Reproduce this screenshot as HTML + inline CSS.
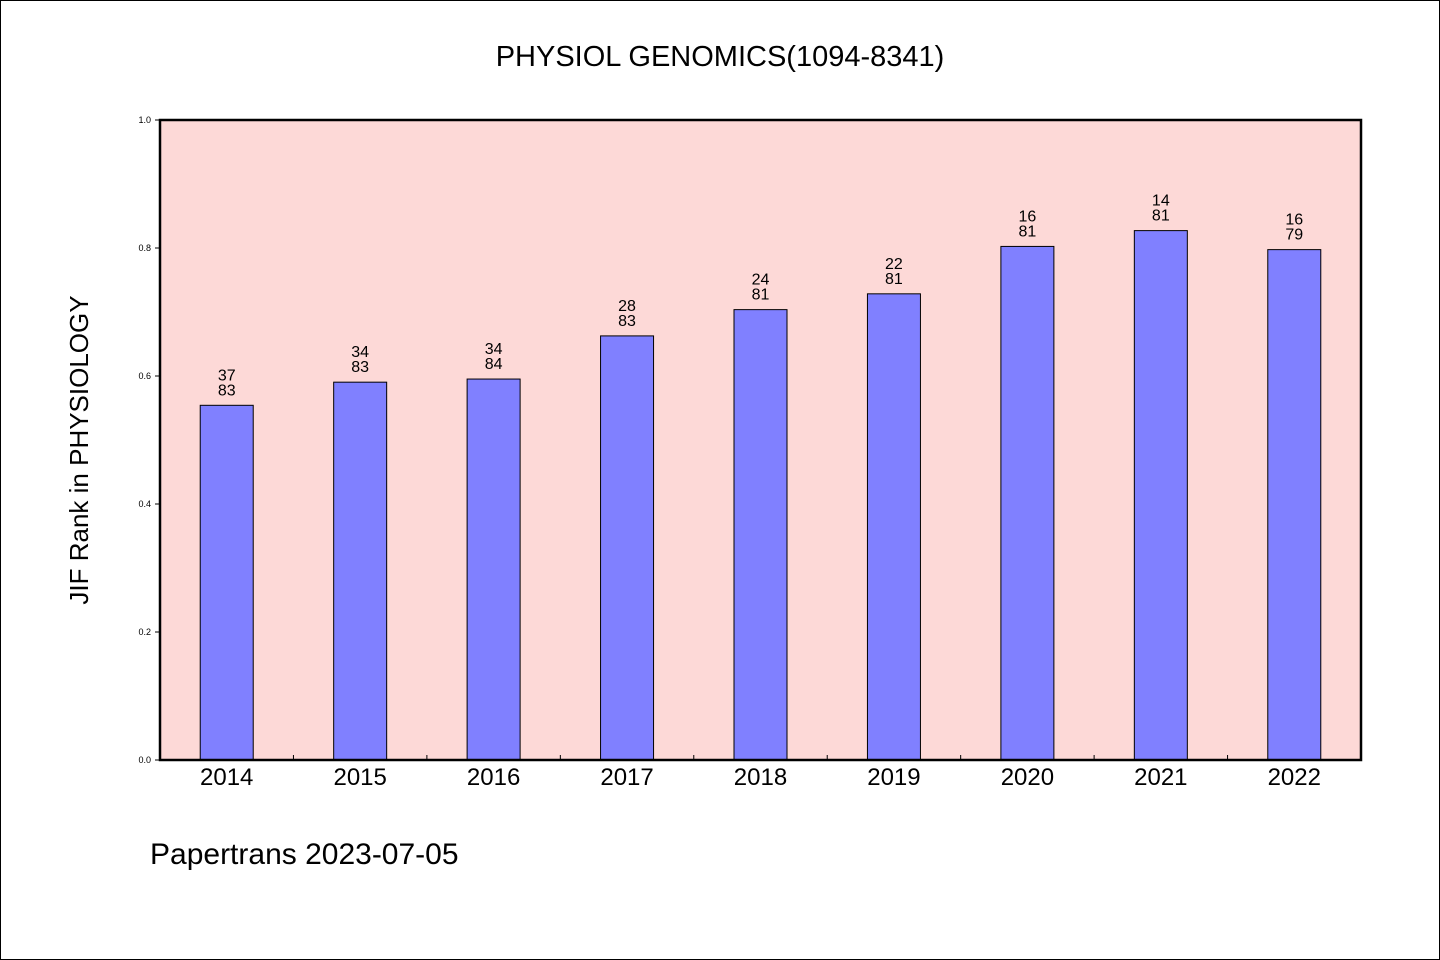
<!DOCTYPE html>
<html><head><meta charset="utf-8"><style>
body{margin:0;background:#fff}
svg{display:block}
text{font-family:"WenQuanYi Zen Hei","Liberation Sans",sans-serif;fill:#000}
</style></head><body>
<svg id="c" width="1440" height="960">
<rect x="0.5" y="0.5" width="1439" height="959" fill="#fff" stroke="#000"/>
<text x="720" y="66" text-anchor="middle" font-size="29">PHYSIOL GENOMICS(1094-8341)</text>
<rect x="160" y="120" width="1201" height="640" fill="#fdd9d7"/>
<g id="bars"></g>
<rect x="160" y="120" width="1201" height="640" fill="none" stroke="#000" stroke-width="2.5"/>
<text transform="translate(88,450) rotate(-90)" text-anchor="middle" font-size="26">JIF Rank in PHYSIOLOGY</text>
<text x="150" y="864" font-size="30">Papertrans 2023-07-05</text>
</svg>
<script>
const years=["2014","2015","2016","2017","2018","2019","2020","2021","2022"];
const ranks=[37,34,34,28,24,22,16,14,16];
const totals=[83,83,84,83,81,81,81,81,79];
const yTicks=[0,0.2,0.4,0.6,0.8,1.0];
const ns="http://www.w3.org/2000/svg";
const X0=160,X1=1361,Y0=760,Y1=120;
const step=(X1-X0)/years.length;
const xc=i=>X0+step*(i+0.5);
const ys=v=>Y0-(Y0-Y1)*v;
const g=document.getElementById('bars');
function mk(t,a){const e=document.createElementNS(ns,t);for(const k in a)e.setAttribute(k,a[k]);g.appendChild(e);return e;}
years.forEach((y,i)=>{
  const v=1-ranks[i]/totals[i];
  const r=mk('rect',{x:xc(i)-26.5,y:ys(v),width:53,height:Y0-ys(v),fill:'#8080ff',stroke:'#000','stroke-width':1});
  
  
  const t1=mk('text',{x:xc(i),y:ys(v)-25,'text-anchor':'middle','font-size':16});t1.textContent=ranks[i];
  
  
  const t2=mk('text',{x:xc(i),y:ys(v)-10,'text-anchor':'middle','font-size':16});t2.textContent=totals[i];
  
  
  const xl=mk('text',{x:xc(i),y:785,'text-anchor':'middle','font-size':24});xl.textContent=y;
  
  
  if(i>0){const tk=mk('line',{x1:X0+step*i,x2:X0+step*i,y1:Y0,y2:Y0-5,stroke:'#000'});
  
  }
});
yTicks.forEach(v=>{
  const tk=mk('line',{x1:X0-5,x2:X0,y1:ys(v),y2:ys(v),stroke:'#000'});
  
  
  const t=mk('text',{x:151,y:ys(v)+3,'text-anchor':'end','font-size':9});t.textContent=v.toFixed(1);
  
  
});
</script>
</body></html>
